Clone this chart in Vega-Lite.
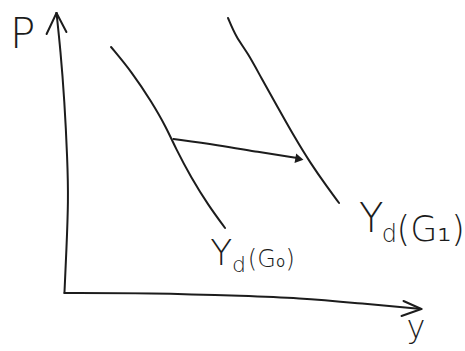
{
  "$schema": "https://vega.github.io/schema/vega-lite/v6.json",
  "width": 465,
  "height": 351,
  "autosize": {"type": "fit", "contains": "padding"},
  "padding": 0,
  "background": "white",
  "config": {"view": {"stroke": null}},
  "datasets": {
    "strokes": [
      {"id": "vaxis", "ord": 1, "x": 0, "y": 0},
      {"id": "vaxis", "ord": 2, "x": 2, "y": 43},
      {"id": "vaxis", "ord": 3, "x": 4, "y": 93},
      {"id": "vaxis", "ord": 4, "x": 3, "y": 133},
      {"id": "vaxis", "ord": 5, "x": 0, "y": 193},
      {"id": "vaxis", "ord": 6, "x": -4, "y": 243},
      {"id": "vaxis", "ord": 7, "x": -8, "y": 280},
      {"id": "vbarbL", "ord": 1, "x": -18, "y": 259},
      {"id": "vbarbL", "ord": 2, "x": -8, "y": 280},
      {"id": "vbarbR", "ord": 1, "x": 2, "y": 261},
      {"id": "vbarbR", "ord": 2, "x": -8, "y": 280},
      {"id": "haxis", "ord": 1, "x": 0, "y": 0},
      {"id": "haxis", "ord": 2, "x": 85, "y": 0},
      {"id": "haxis", "ord": 3, "x": 185, "y": -3},
      {"id": "haxis", "ord": 4, "x": 235, "y": -5},
      {"id": "haxis", "ord": 5, "x": 295, "y": -10},
      {"id": "haxis", "ord": 6, "x": 360, "y": -16},
      {"id": "hbarbU", "ord": 1, "x": 342, "y": -8},
      {"id": "hbarbU", "ord": 2, "x": 360, "y": -16},
      {"id": "hbarbD", "ord": 1, "x": 340, "y": -23},
      {"id": "hbarbD", "ord": 2, "x": 360, "y": -16},
      {"id": "yd0", "ord": 1, "x": 47, "y": 246},
      {"id": "yd0", "ord": 2, "x": 68, "y": 221},
      {"id": "yd0", "ord": 3, "x": 88, "y": 191},
      {"id": "yd0", "ord": 4, "x": 103, "y": 165},
      {"id": "yd0", "ord": 5, "x": 112, "y": 145},
      {"id": "yd0", "ord": 6, "x": 128, "y": 115},
      {"id": "yd0", "ord": 7, "x": 145, "y": 88},
      {"id": "yd0", "ord": 8, "x": 162, "y": 65},
      {"id": "yd1", "ord": 1, "x": 165, "y": 275},
      {"id": "yd1", "ord": 2, "x": 173, "y": 256},
      {"id": "yd1", "ord": 3, "x": 185, "y": 240},
      {"id": "yd1", "ord": 4, "x": 198, "y": 216},
      {"id": "yd1", "ord": 5, "x": 215, "y": 186},
      {"id": "yd1", "ord": 6, "x": 232, "y": 156},
      {"id": "yd1", "ord": 7, "x": 248, "y": 130},
      {"id": "yd1", "ord": 8, "x": 265, "y": 106},
      {"id": "yd1", "ord": 9, "x": 277, "y": 90},
      {"id": "shift", "ord": 1, "x": 110, "y": 154},
      {"id": "shift", "ord": 2, "x": 155, "y": 148},
      {"id": "shift", "ord": 3, "x": 195, "y": 141},
      {"id": "shift", "ord": 4, "x": 235, "y": 135}
    ],
    "heads": [
      {"x": 237, "y": 134}
    ],
    "labels": [
      {"role": "axisP", "text": "P", "x": -55, "y": 245},
      {"role": "axisY", "text": "y", "x": 345, "y": -45},
      {"role": "big1", "text": "Y", "x": 297, "y": 61},
      {"role": "sub1", "text": "d", "x": 320, "y": 51},
      {"role": "paren1", "text": "(G₁)", "x": 335, "y": 52},
      {"role": "big0", "text": "Y", "x": 147, "y": 28},
      {"role": "sub0", "text": "d", "x": 169, "y": 21},
      {"role": "paren0", "text": "(G₀)", "x": 185, "y": 26}
    ]
  },
  "encoding": {
    "x": {"type": "quantitative", "scale": {"domain": [-65, 400], "nice": false, "zero": false}, "axis": null},
    "y": {"type": "quantitative", "scale": {"domain": [-58, 293], "nice": false, "zero": false}, "axis": null}
  },
  "layer": [
    {
      "data": {"name": "strokes"},
      "mark": {"type": "line", "color": "#1c1c1c", "strokeWidth": 2, "interpolate": "basis", "strokeCap": "round", "strokeJoin": "round"},
      "encoding": {
        "x": {"field": "x"},
        "y": {"field": "y"},
        "detail": {"field": "id"},
        "order": {"field": "ord", "type": "quantitative"}
      }
    },
    {
      "data": {"name": "heads"},
      "mark": {"type": "point", "shape": "triangle-right", "filled": true, "color": "#1c1c1c", "size": 90, "angle": 10, "opacity": 1},
      "encoding": {"x": {"field": "x"}, "y": {"field": "y"}}
    },
    {
      "data": {"name": "labels"},
      "transform": [{"filter": "datum.role === 'axisP'"}],
      "mark": {"type": "text", "font": "DejaVu Sans", "fontSize": 42, "fontWeight": 200, "align": "left", "baseline": "alphabetic", "color": "#1c1c1c"},
      "encoding": {"x": {"field": "x"}, "y": {"field": "y"}, "text": {"field": "text"}}
    },
    {
      "data": {"name": "labels"},
      "transform": [{"filter": "datum.role === 'axisY'"}],
      "mark": {"type": "text", "font": "DejaVu Sans", "fontSize": 32, "fontWeight": 200, "align": "left", "baseline": "alphabetic", "color": "#1c1c1c"},
      "encoding": {"x": {"field": "x"}, "y": {"field": "y"}, "text": {"field": "text"}}
    },
    {
      "data": {"name": "labels"},
      "transform": [{"filter": "datum.role === 'big1'"}],
      "mark": {"type": "text", "font": "DejaVu Sans", "fontSize": 40, "fontWeight": 200, "align": "left", "baseline": "alphabetic", "color": "#1c1c1c"},
      "encoding": {"x": {"field": "x"}, "y": {"field": "y"}, "text": {"field": "text"}}
    },
    {
      "data": {"name": "labels"},
      "transform": [{"filter": "datum.role === 'sub1'"}],
      "mark": {"type": "text", "font": "DejaVu Sans", "fontSize": 24, "fontWeight": 200, "align": "left", "baseline": "alphabetic", "color": "#1c1c1c"},
      "encoding": {"x": {"field": "x"}, "y": {"field": "y"}, "text": {"field": "text"}}
    },
    {
      "data": {"name": "labels"},
      "transform": [{"filter": "datum.role === 'paren1'"}],
      "mark": {"type": "text", "font": "DejaVu Sans", "fontSize": 35, "fontWeight": 200, "align": "left", "baseline": "alphabetic", "color": "#1c1c1c"},
      "encoding": {"x": {"field": "x"}, "y": {"field": "y"}, "text": {"field": "text"}}
    },
    {
      "data": {"name": "labels"},
      "transform": [{"filter": "datum.role === 'big0'"}],
      "mark": {"type": "text", "font": "DejaVu Sans", "fontSize": 36, "fontWeight": 200, "align": "left", "baseline": "alphabetic", "color": "#1c1c1c"},
      "encoding": {"x": {"field": "x"}, "y": {"field": "y"}, "text": {"field": "text"}}
    },
    {
      "data": {"name": "labels"},
      "transform": [{"filter": "datum.role === 'sub0'"}],
      "mark": {"type": "text", "font": "DejaVu Sans", "fontSize": 22, "fontWeight": 200, "align": "left", "baseline": "alphabetic", "color": "#1c1c1c"},
      "encoding": {"x": {"field": "x"}, "y": {"field": "y"}, "text": {"field": "text"}}
    },
    {
      "data": {"name": "labels"},
      "transform": [{"filter": "datum.role === 'paren0'"}],
      "mark": {"type": "text", "font": "DejaVu Sans", "fontSize": 24, "fontWeight": 200, "align": "left", "baseline": "alphabetic", "color": "#1c1c1c"},
      "encoding": {"x": {"field": "x"}, "y": {"field": "y"}, "text": {"field": "text"}}
    }
  ]
}
